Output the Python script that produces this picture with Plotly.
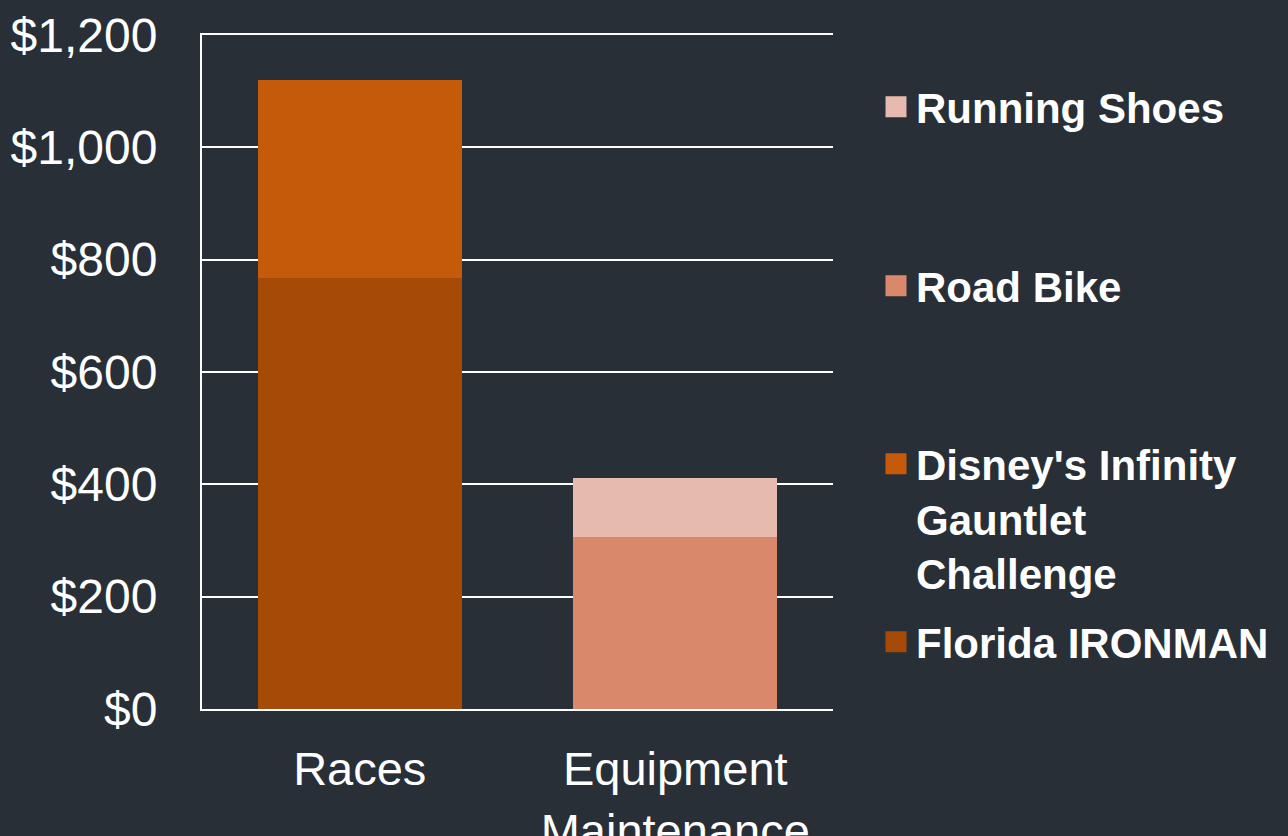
import plotly.graph_objects as go

categories = ["Races", "Equipment Maintenance"]
category_labels = ["Races", "Equipment<br>Maintenance"]

series_names = ["Florida IRONMAN", "Disney's Infinity Gauntlet Challenge", "Road Bike", "Running Shoes"]
legend_labels = ["Florida IRONMAN", "Disney's Infinity<br>Gauntlet<br>Challenge", "Road Bike", "Running Shoes"]
florida_ironman = [767, 0]
disney_gauntlet = [353, 0]
road_bike = [0, 306]
running_shoes = [0, 106]

y_ticks = [0, 200, 400, 600, 800, 1000, 1200]

colors = ["#A54B07", "#C55A0A", "#D9886C", "#E6BAAE"]
legend_y_px = [643, 465, 287, 108]  # vertical position of each legend entry's first line (px from top)

BG = "#282F37"
FONT = "Liberation Sans, Arial, sans-serif"

values = [florida_ironman, disney_gauntlet, road_bike, running_shoes]
legend_ids = ["legend", "legend2", "legend3", "legend4"]

fig = go.Figure()
for name, vals, col in zip(series_names, values, colors):
    fig.add_trace(go.Bar(
        name=name, x=categories, y=vals, marker=dict(color=col, line=dict(width=0)),
        showlegend=False,
    ))

# legend entries (square swatches)
for lab, col, lid in zip(legend_labels, colors, legend_ids):
    fig.add_trace(go.Scatter(
        name=lab, x=[None], y=[None], mode="markers",
        marker=dict(symbol="square", size=16, color=col, line=dict(color=col, width=5)),
        legend=lid, showlegend=True, hoverinfo="skip",
    ))

legend_common = dict(
    xref="container", yref="container", x=876 / 1288, xanchor="left", yanchor="top",
    bgcolor="rgba(0,0,0,0)", borderwidth=0, valign="top",
    font=dict(family=FONT, size=42, color="white", weight="bold"),
)
layout_legends = {}
for lid, ypx in zip(legend_ids, legend_y_px):
    layout_legends[lid] = dict(legend_common, y=1 - (ypx - 35) / 836)

fig.update_layout(
    barmode="stack",
    bargap=0.353,
    width=1288, height=836,
    paper_bgcolor=BG, plot_bgcolor=BG,
    margin=dict(l=202, r=455, t=35, b=127, pad=0, autoexpand=False),
    showlegend=True,
    font=dict(family=FONT, color="white"),
    xaxis=dict(
        tickvals=categories, ticktext=category_labels,
        showline=True, linecolor="white", linewidth=2, mirror=True,
        showgrid=False, ticks="", ticklabelstandoff=18, automargin=False,
        tickfont=dict(size=47, color="white", family=FONT),
    ),
    yaxis=dict(
        range=[0, 1200], tickvals=y_ticks,
        tickformat="$,",
        showline=True, linecolor="white", linewidth=2,
        showgrid=True, gridcolor="white", gridwidth=2,
        zeroline=False, ticks="", ticklabelstandoff=33, automargin=False,
        tickfont=dict(size=48, color="white", family=FONT),
    ),
    **layout_legends,
)

fig.write_html(
    "out.html",
    config={"displayModeBar": False},
    post_script="document.body.style.margin='0';document.body.style.background='" + BG + "';",
)
